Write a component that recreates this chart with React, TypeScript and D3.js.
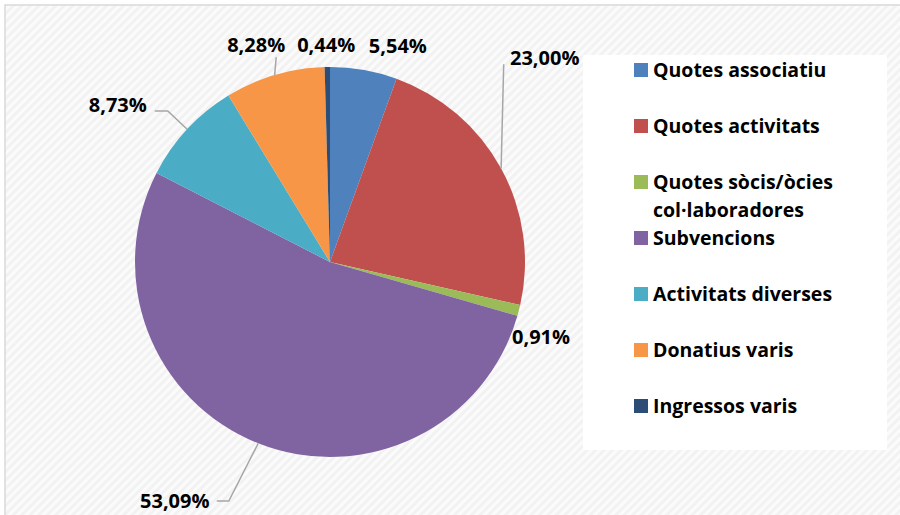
import React from "react";
import * as d3 from "d3";

const categories = [
  "Quotes associatiu",
  "Quotes activitats",
  "Quotes sòcis/òcies col·laboradores",
  "Subvencions",
  "Activitats diverses",
  "Donatius varis",
  "Ingressos varis",
];
const values = [5.54, 23.0, 0.91, 53.09, 8.73, 8.28, 0.44];
const valueLabels = ["5,54%", "23,00%", "0,91%", "53,09%", "8,73%", "8,28%", "0,44%"];
const legendLines = [
  ["Quotes associatiu"],
  ["Quotes activitats"],
  ["Quotes sòcis/òcies", "col·laboradores"],
  ["Subvencions"],
  ["Activitats diverses"],
  ["Donatius varis"],
  ["Ingressos varis"],
];
const colors = ["#4F81BD", "#C0504D", "#9BBB59", "#8064A2", "#4BACC6", "#F79646", "#2C4D75"];

// label placement (layout): polar position relative to pie centre, and leader style
const labelLayout = [
  { angle: 17.4, radius: 227, leader: null },
  { angle: 46.5, radius: 296, leader: { sx: -41, sy: 6, elbow: 0 } },
  { angle: 109.6, radius: 224, leader: null },
  { angle: 213, radius: 285, leader: { sx: 42, sy: 0, elbow: 12 } },
  { angle: 306.5, radius: 264, leader: { sx: 37, sy: 6, elbow: 13 } },
  { angle: 341.2, radius: 229, leader: { sx: 20, sy: 12, elbow: 0 } },
  { angle: 359, radius: 217, leader: null },
];

export default function App() {
  const W = 900, H = 515;
  const cx = 330, cy = 262, r = 195;
  const pie = d3.pie<number>().sort(null).value((d) => d)(values);
  const arc = d3.arc<d3.PieArcDatum<number>>().innerRadius(0).outerRadius(r);
  const font = "'Open Sans', sans-serif";

  return (
    <svg width={W} height={H} style={{ position: "absolute", left: 0, top: 0 }}>
      <defs>
        <pattern id="bg" width="6" height="6" patternUnits="userSpaceOnUse" patternTransform="rotate(45)">
          <rect width="6" height="6" fill="#fbfbfb" />
          <rect width="3" height="6" fill="#f2f2f2" />
        </pattern>
      </defs>
      <rect x={0} y={0} width={W} height={H} fill="#ffffff" />
      <rect x={5} y={5} width={W + 10} height={H + 10} fill="url(#bg)" stroke="#d9d9d9" strokeWidth={1.5} />
      <g transform={`translate(${cx},${cy})`}>
        {pie.map((p, i) => (
          <path key={i} d={arc(p) || ""} fill={colors[i]} />
        ))}
      </g>
      {pie.map((p, i) => {
        const L = labelLayout[i];
        const a = (L.angle * Math.PI) / 180;
        const lx = cx + L.radius * Math.sin(a);
        const ly = cy - L.radius * Math.cos(a);
        const mid = (p.startAngle + p.endAngle) / 2;
        const ex = cx + r * Math.sin(mid);
        const ey = cy - r * Math.cos(mid);
        let line = null;
        if (L.leader) {
          const sx = lx + L.leader.sx;
          const sy = ly + L.leader.sy;
          const pts: [number, number][] = [[sx, sy]];
          if (L.leader.elbow) pts.push([sx + L.leader.elbow, sy]);
          pts.push([ex, ey]);
          line = (
            <polyline
              points={pts.map((q) => q.join(",")).join(" ")}
              fill="none"
              stroke="#a6a6a6"
              strokeWidth={1.5}
            />
          );
        }
        return (
          <g key={i}>
            {line}
            <text
              x={lx}
              y={ly}
              dy="0.36em"
              textAnchor="middle"
              fontFamily={font}
              fontWeight="bold"
              fontSize={20}
              fill="#000"
            >
              {valueLabels[i]}
            </text>
          </g>
        );
      })}
      <rect x={583} y={55} width={304} height={395} fill="#ffffff" />
      {categories.map((c, i) => {
        const y = 70 + i * 56;
        return (
          <g key={c}>
            <rect x={634} y={y - 7} width={14} height={14} fill={colors[i]} />
            {legendLines[i].map((t, j) => (
              <text
                key={j}
                x={653}
                y={y + j * 28}
                dy="0.36em"
                fontFamily={font}
                fontWeight="bold"
                fontSize={19.5}
                fill="#000"
              >
                {t}
              </text>
            ))}
          </g>
        );
      })}
    </svg>
  );
}
